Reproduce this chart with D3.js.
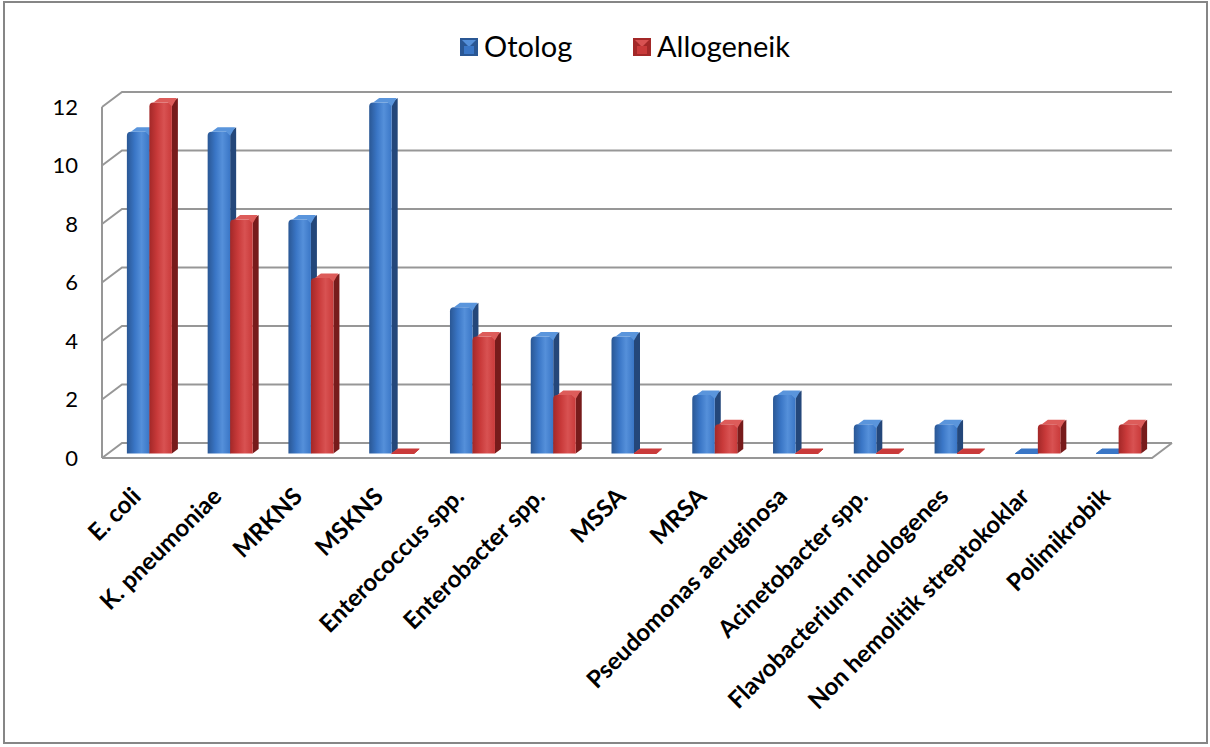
<!DOCTYPE html>
<html>
<head>
<meta charset="utf-8">
<script src="https://cdn.jsdelivr.net/npm/d3@7"></script>
<style>
  body { margin: 0; background: #fff; }
  svg { display: block; }
  text { font-family: Lato, "Open Sans", sans-serif; fill: #000; }
</style>
</head>
<body>
<div id="chart"></div>
<script>
var categories = ['E. coli', 'K. pneumoniae', 'MRKNS', 'MSKNS', 'Enterococcus spp.', 'Enterobacter spp.',
  'MSSA', 'MRSA', 'Pseudomonas aeruginosa', 'Acinetobacter spp.', 'Flavobacterium indologenes',
  'Non hemolitik streptokoklar', 'Polimikrobik']
var otolog = [11, 11, 8, 12, 5, 4, 4, 2, 2, 1, 1, 0, 0]
var allogeneik = [12, 8, 6, 0, 4, 2, 0, 1, 0, 0, 0, 1, 1]
var seriesNames = ['Otolog', 'Allogeneik']
var yTicks = [0, 2, 4, 6, 8, 10, 12]

var width = 1210, height = 747
var margin = { left: 102, right: 58, top: 107, bottom: 289 }
// 3d depth of the plot box
var depth = { x: 20, y: -15 }

var svg = d3.select('#chart').append('svg')
  .attr('width', width)
  .attr('height', height)

var defs = svg.append('defs')

// outer chart frame
svg.append('rect')
  .attr('x', 4).attr('y', 2)
  .attr('width', 1203).attr('height', 741)
  .attr('fill', '#fff')
  .attr('stroke', '#868686')
  .attr('stroke-width', 2)

var xScale = d3.scaleBand()
  .domain(categories)
  .range([margin.left, width - margin.right])
  .paddingInner(0)
  .paddingOuter(0)

var yScale = d3.scaleLinear()
  .domain([0, 12])
  .range([height - margin.bottom, margin.top])

var colors = {
  Otolog: { dark: '#2a5794', mid: '#3a76c6', light: '#5590da', side: '#24477a', top: '#5a95dc' },
  Allogeneik: { dark: '#a32828', mid: '#c93a3a', light: '#d85252', side: '#771b1b', top: '#dd5c5a' }
}

seriesNames.forEach(function(s) {
  var c = colors[s]
  var g = defs.append('linearGradient')
    .attr('id', 'grad-' + s)
    .attr('x1', '0%').attr('x2', '100%')
    .attr('y1', '0%').attr('y2', '0%')
  g.append('stop').attr('offset', '0%').attr('stop-color', c.dark)
  g.append('stop').attr('offset', '35%').attr('stop-color', c.mid)
  g.append('stop').attr('offset', '65%').attr('stop-color', c.light)
  g.append('stop').attr('offset', '100%').attr('stop-color', c.mid)
})

// grid lines: back wall + side wall
var grid = svg.append('g').attr('class', 'grid')
  .attr('stroke', '#979797')
  .attr('stroke-width', 2)
  .attr('fill', 'none')

yTicks.forEach(function(t) {
  var yf = yScale(t)
  grid.append('path')
    .attr('d', `M${margin.left},${yf} L${margin.left + depth.x},${yf + depth.y} L${width - margin.right + depth.x},${yf + depth.y}`)
})

// front left axis line
grid.append('line')
  .attr('x1', margin.left).attr('x2', margin.left)
  .attr('y1', yScale(12)).attr('y2', yScale(0))

// floor
var y0 = yScale(0)
grid.append('path')
  .attr('d', `M${margin.left},${y0} L${width - margin.right},${y0} L${width - margin.right + depth.x},${y0 + depth.y}`)

// y labels
svg.append('g')
  .selectAll('text')
  .data(yTicks)
  .join('text')
  .attr('x', 78)
  .attr('y', d => yScale(d))
  .attr('dy', '0.35em')
  .attr('text-anchor', 'end')
  .style('font-size', '22px')
  .text(d => d)

// bars
var barW = 22.5
var off = { x: 7, y: -4.5 }
var bd = { x: 6, y: -4.5 }

var bars = []
categories.forEach(function(cat, i) {
  bars.push({ cat: cat, s: 'Otolog', v: otolog[i], k: 0 })
  bars.push({ cat: cat, s: 'Allogeneik', v: allogeneik[i], k: 1 })
})

var barG = svg.append('g').attr('class', 'bars')

bars.forEach(function(d) {
  var cx = xScale(d.cat) + xScale.bandwidth() / 2
  var x = cx - barW + d.k * barW + off.x
  var yb = yScale(0) + off.y
  var yt = yScale(d.v) + off.y
  var c = colors[d.s]
  var g = barG.append('g')
  var r = Math.min(4, (yb - yt) / 2)
  // side face
  g.append('path')
    .attr('d', `M${x + barW},${yt} L${x + barW + bd.x},${yt + bd.y} L${x + barW + bd.x},${yb + bd.y} L${x + barW},${yb} Z`)
    .attr('fill', c.side)
  // front face
  g.append('path')
    .attr('d', `M${x},${yb} L${x},${yt + r} Q${x},${yt} ${x + r},${yt} L${x + barW - r},${yt} Q${x + barW},${yt} ${x + barW},${yt + r} L${x + barW},${yb} Z`)
    .attr('fill', d.v > 0 ? `url(#grad-${d.s})` : c.mid)
  // top face
  g.append('path')
    .attr('d', `M${x + r},${yt} L${x + r + bd.x},${yt + bd.y} L${x + barW + bd.x - 1},${yt + bd.y} L${x + barW},${yt + r} L${x + barW - r},${yt} Z`)
    .attr('fill', d.v > 0 ? c.top : c.mid)
    .attr('stroke', d.v > 0 ? 'none' : c.mid)
    .attr('stroke-width', 1)
})

// category labels
svg.append('g')
  .selectAll('text')
  .data(categories)
  .join('text')
  .attr('transform', d => `translate(${xScale(d) + xScale.bandwidth() / 2},${498}) rotate(-45)`)
  .attr('text-anchor', 'end')
  .style('font-size', '24px')
  .style('font-weight', 'bold')
  .text(d => d)

// legend
var legend = svg.append('g').attr('class', 'legend')
var legX = [460, 633]
seriesNames.forEach(function(s, i) {
  var c = colors[s]
  var lg = legend.append('g').attr('transform', `translate(${legX[i]},38)`)
  lg.append('rect').attr('width', 18).attr('height', 18).attr('fill', c.dark)
  lg.append('path').attr('d', 'M2,2 L16,2 L9,9 Z').attr('fill', c.light)
  lg.append('rect').attr('x', 4).attr('y', 8).attr('width', 10).attr('height', 8).attr('fill', c.mid)
  lg.append('text')
    .attr('x', 24)
    .attr('y', 9)
    .attr('dy', '0.35em')
    .style('font-size', '29px')
    .text(s)
})
</script>
</body>
</html>
